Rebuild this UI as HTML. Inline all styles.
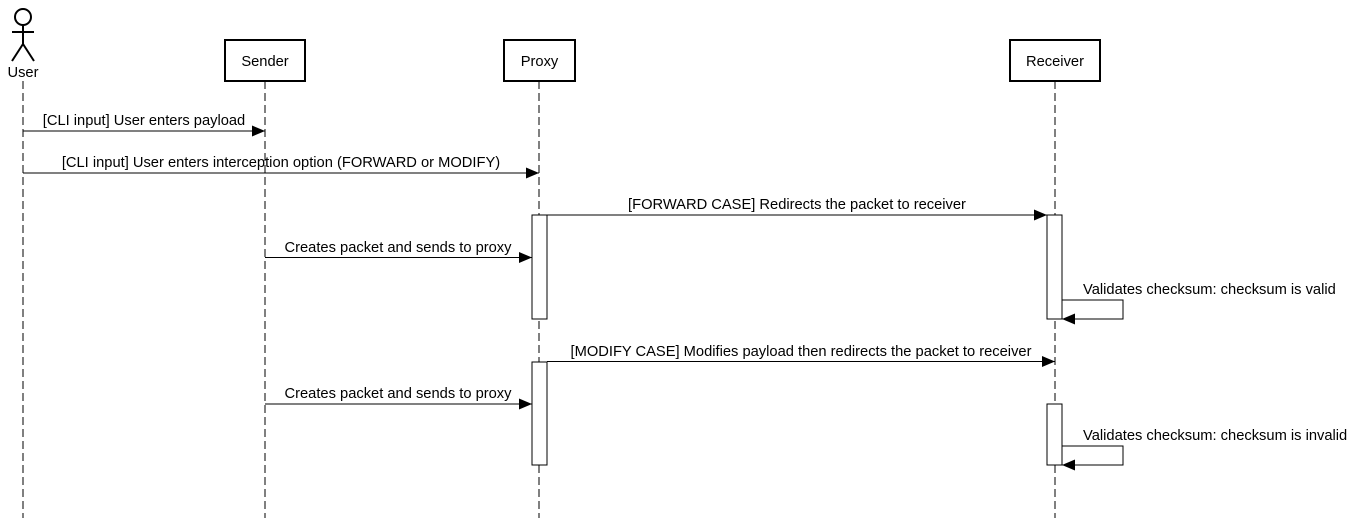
<!DOCTYPE html>
<html><head><meta charset="utf-8"><style>
html,body{margin:0;padding:0;background:#fff;}
svg{display:block;}
text{font-family:"Liberation Sans",Arial,sans-serif;font-size:14.7px;fill:#000;}
</style></head><body>
<svg width="1353" height="518" viewBox="0 0 1353 518" xmlns="http://www.w3.org/2000/svg">
<defs>
<marker id="a" markerWidth="13" markerHeight="11" refX="13" refY="5.5" orient="auto" markerUnits="userSpaceOnUse">
<path d="M0,0 L13,5.5 L0,11 Z" fill="#000"/>
</marker>
</defs>
<g stroke="#000" stroke-width="1" stroke-dasharray="8,4" fill="none">
<line x1="23" y1="81" x2="23" y2="518"/>
<line x1="265" y1="81" x2="265" y2="518"/>
<line x1="539" y1="81" x2="539" y2="518"/>
<line x1="1055" y1="81" x2="1055" y2="518"/>
</g>
<g stroke="#000" stroke-width="2" fill="none">
<circle cx="23" cy="17" r="8" fill="#fff"/>
<line x1="23" y1="25" x2="23" y2="44"/>
<line x1="12" y1="32" x2="34" y2="32"/>
<line x1="23" y1="44" x2="12" y2="61"/>
<line x1="23" y1="44" x2="34" y2="61"/>
</g>
<text x="23" y="77" text-anchor="middle">User</text>
<g stroke="#000" stroke-width="2" fill="#fff">
<rect x="225" y="40" width="80" height="41"/>
<rect x="504" y="40" width="71" height="41"/>
<rect x="1010" y="40" width="90" height="41"/>
</g>
<text x="265" y="66" text-anchor="middle">Sender</text>
<text x="539.5" y="66" text-anchor="middle">Proxy</text>
<text x="1055" y="66" text-anchor="middle">Receiver</text>
<g stroke="#000" stroke-width="1" fill="#fff">
<rect x="532" y="215" width="15" height="104"/>
<rect x="1047" y="215" width="15" height="104"/>
<rect x="532" y="362" width="15" height="103"/>
<rect x="1047" y="404" width="15" height="61"/>
</g>
<g stroke="#000" stroke-width="1" fill="none" marker-end="url(#a)">
<line x1="23" y1="131" x2="265" y2="131"/>
<line x1="23" y1="173" x2="539" y2="173"/>
<line x1="547" y1="215" x2="1047" y2="215"/>
<line x1="265" y1="257.5" x2="532" y2="257.5"/>
<polyline points="1062,300 1123,300 1123,319 1062,319"/>
<line x1="547" y1="361.5" x2="1055" y2="361.5"/>
<line x1="265" y1="404" x2="532" y2="404"/>
<polyline points="1062,446 1123,446 1123,465 1062,465"/>
</g>
<text x="144" y="125" text-anchor="middle">[CLI input] User enters payload</text>
<text x="281" y="167" text-anchor="middle">[CLI input] User enters interception option (FORWARD or MODIFY)</text>
<text x="797" y="209" text-anchor="middle">[FORWARD CASE] Redirects the packet to receiver</text>
<text x="398" y="252" text-anchor="middle">Creates packet and sends to proxy</text>
<text x="1083" y="294">Validates checksum: checksum is valid</text>
<text x="801" y="356" text-anchor="middle">[MODIFY CASE] Modifies payload then redirects the packet to receiver</text>
<text x="398" y="398" text-anchor="middle">Creates packet and sends to proxy</text>
<text x="1083" y="440">Validates checksum: checksum is invalid</text>
</svg>
</body></html>
